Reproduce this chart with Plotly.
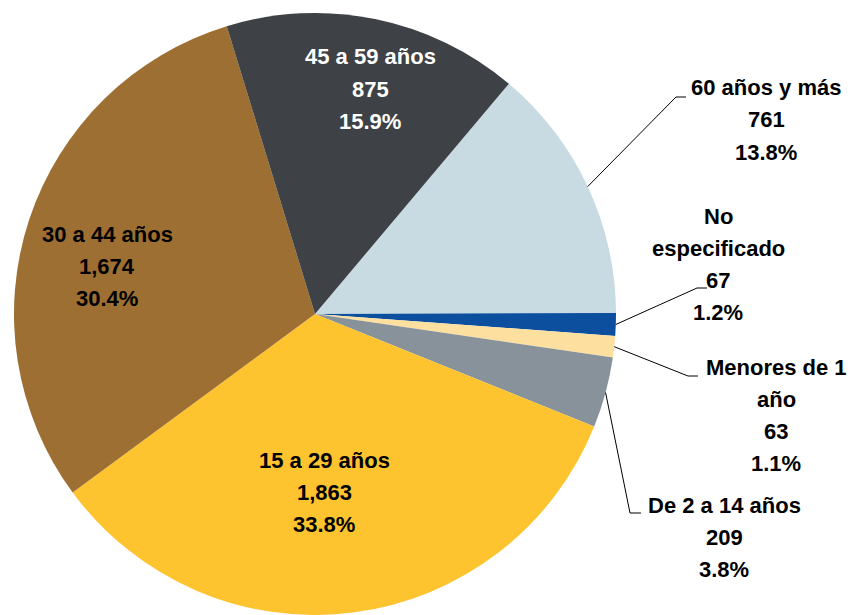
import plotly.graph_objects as go
import math

W, H = 851, 615

categories = ["60 años y más", "No especificado", "Menores de 1 año", "De 2 a 14 años",
              "15 a 29 años", "30 a 44 años", "45 a 59 años"]
values = [761, 67, 63, 209, 1863, 1674, 875]
pct_labels = ["13.8%", "1.2%", "1.1%", "3.8%", "33.8%", "30.4%", "15.9%"]
value_labels = ["761", "67", "63", "209", "1,863", "1,674", "875"]
label_lines = [["60 años y más"], ["No", "especificado"], ["Menores de 1", "año"], ["De 2 a 14 años"],
               ["15 a 29 años"], ["30 a 44 años"], ["45 a 59 años"]]
colors = ["#C8DAE2", "#0B4F9E", "#FDE0A0", "#87929A", "#FDC430", "#9E6F32", "#3E4145"]
text_colors = ["black", "black", "black", "black", "black", "black", "white"]

ROT = 40.1
# pie geometry in pixels
CX, CY, R = 315, 314, 301

# label first-line centers (pixels) and leader elbows
label_pos = [(766, 88), (718, 216), (776, 367), (724, 505), (324, 460), (107, 234), (370, 57)]
LINE_STEP = 32
elbows = [((676, 97), (686, 97)), ((697, 288), (707, 288)), ((688, 376), (698, 376)),
          ((630, 513), (641, 513)), None, None, None]

def px(x):
    return x / W

def py(y):
    return 1 - y / H

fig = go.Figure(go.Pie(
    labels=categories, values=values, sort=False, direction="clockwise", rotation=ROT,
    marker=dict(colors=colors, line=dict(width=0)), textinfo="none", hoverinfo="label+value+percent",
    showlegend=False,
    domain=dict(x=[px(CX - R), px(CX + R)], y=[py(CY + R), py(CY - R)]),
))

total = sum(values)
cum = 0
FONT = "Liberation Sans, Arial, sans-serif"
for i, v in enumerate(values):
    mid = ROT + (cum + v / 2) / total * 360
    cum += v
    x, y = label_pos[i]
    lines = label_lines[i] + [value_labels[i], pct_labels[i]]
    for k, line in enumerate(lines):
        fig.add_annotation(x=px(x), y=py(y + k * LINE_STEP), xref="paper", yref="paper",
                           text=f"<b>{line}</b>", showarrow=False,
                           font=dict(family=FONT, size=22, color=text_colors[i]),
                           xanchor="center", yanchor="middle")
    if elbows[i] is not None:
        a = math.radians(mid)
        sx = CX + R * math.sin(a)
        sy = CY - R * math.cos(a)
        (e1x, e1y), (e2x, e2y) = elbows[i]
        fig.add_shape(type="path", xref="paper", yref="paper",
                      path=f"M {px(sx)} {py(sy)} L {px(e1x)} {py(e1y)} L {px(e2x)} {py(e2y)}",
                      line=dict(color="black", width=1))

fig.update_layout(width=W, height=H, margin=dict(l=0, r=0, t=0, b=0),
                  paper_bgcolor="white", plot_bgcolor="white")
fig.write_html("out.html", config={"displayModeBar": False},
               post_script="document.body.style.margin='0';document.body.style.overflow='hidden';")
